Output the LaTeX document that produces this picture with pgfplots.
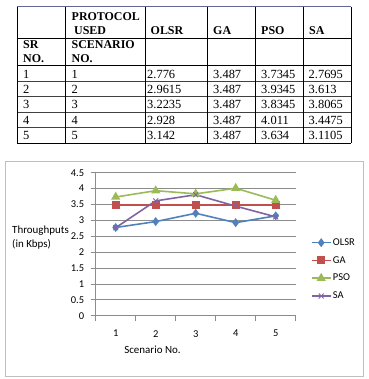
\documentclass[border=0pt]{standalone}
\usepackage{pgfplots}
\pgfplotsset{compat=1.18}
\usepackage{fontspec}
\setmainfont{Liberation Serif}
\newfontfamily\calibri{Carlito}

\definecolor{olsr}{HTML}{4F81BD}
\definecolor{ga}{HTML}{C0504D}
\definecolor{pso}{HTML}{9BBB59}
\definecolor{sa}{HTML}{8064A2}
\definecolor{gridgray}{HTML}{8C8C8C}
\definecolor{framegray}{HTML}{BFBFBF}

\begin{document}
\begin{tikzpicture}[x=1bp,y=1bp]
\path (0,0) rectangle (369,379);

% ---------------- table ----------------
\begin{scope}
  % horizontal rules
  \draw[line width=0.9bp,black!70!blue!60] (17,372.3) -- (351,372.3);
  \draw[line width=0.9bp] (17,341) -- (351,341);
  \draw[line width=0.9bp] (17,313.3) -- (351,313.3);
  \foreach \yy in {298,282.3,266.7,251.3} \draw[line width=0.8bp,black!75] (17,\yy) -- (351,\yy);
  \draw[line width=0.9bp] (17,236) -- (351,236);
  % vertical rules
  \foreach \xx in {17,65,145,207,255,303,351} \draw[line width=0.9bp] (\xx,372.3) -- (\xx,236);
  % header
  \begin{scope}[every node/.style={anchor=base west,inner sep=0pt,font=\fontsize{12}{14}\selectfont\bfseries}]
    \node at (71.5,358.3) {PROTOCOL};
    \node at (74,344.3) {USED};
    \node at (150.5,344.3) {OLSR};
    \node at (213,344.3) {GA};
    \node at (261,344.3) {PSO};
    \node at (309,344.3) {SA};
    \node at (23,330.7) {SR};
    \node at (23,316.3) {NO.};
    \node at (71.5,330.7) {SCENARIO};
    \node at (71.5,316.3) {NO.};
  \end{scope}
  % body
  \begin{scope}[every node/.style={anchor=base west,inner sep=0pt,font=\fontsize{12.5}{14}\selectfont}]
    \foreach \r/\yy/\a/\b/\c/\d in {1/300.7/2.776/3.487/3.7345/2.7695,
                                   2/285.7/2.9615/3.487/3.9345/3.613,
                                   3/270.3/3.2235/3.487/3.8345/3.8065,
                                   4/254.7/2.928/3.487/4.011/3.4475,
                                   5/239.7/3.142/3.487/3.634/3.1105}{
      \node at (23,\yy) {\r};
      \node at (71.5,\yy) {\r};
      \node at (147,\yy) {\a};
      \node at (213,\yy) {\b};
      \node at (261,\yy) {\c};
      \node at (308.5,\yy) {\d};
    }
  \end{scope}
\end{scope}

% ---------------- chart ----------------
\draw[framegray,line width=1bp] (5.7,2.7) rectangle (363,217.3);

\begin{axis}[
  at={(95.7bp,63.3bp)}, anchor=origin,
  scale only axis, width=200bp, height=143bp,
  xmin=0.5, xmax=5.5, ymin=0, ymax=4.5,
  axis lines*=left,
  axis line style={gridgray,line width=0.8bp},
  xtick={1,2,3,4,5},
  major x tick style={draw=none},
  minor xtick={0.5,1.5,2.5,3.5,4.5,5.5},
  minor x tick style={gridgray,line width=0.8bp},
  minor tick length=5bp,
  ytick={0,0.5,...,4.5},
  major y tick style={gridgray,line width=0.8bp},
  major tick length=5bp,
  tick align=outside,
  ymajorgrids,
  grid style={gridgray,line width=0.8bp},
  yticklabel style={font=\calibri\fontsize{10.5}{12}\selectfont,xshift=-3bp},
  xticklabel style={font=\calibri\fontsize{10.5}{12}\selectfont,yshift=-6bp},
  /pgf/number format/assume math mode=true,
  yticklabel={\pgfmathprintnumber[fixed,precision=1]{\tick}},
  clip=false,
  legend style={at={(1.075,0.324)},anchor=west,draw=none,fill=none,
    inner sep=0pt,row sep=6.5bp,
    font=\calibri\fontsize{10.5}{12}\selectfont,
    nodes={inner sep=1.5bp}},
  legend cell align=left,
  legend image code/.code={\draw[mark repeat=2,mark phase=2,#1]
    plot coordinates {(0bp,0bp) (9.5bp,0bp) (19bp,0bp)};},
  every axis plot/.append style={line width=1.6bp},
]
\addplot[olsr,mark=diamond*,mark size=3.2bp,mark options={solid}]
  coordinates {(1,2.776) (2,2.9615) (3,3.2235) (4,2.928) (5,3.142)};
\addlegendentry{OLSR}
\addplot[ga,mark=square*,mark size=3.2bp]
  coordinates {(1,3.487) (2,3.487) (3,3.487) (4,3.487) (5,3.487)};
\addlegendentry{GA}
\addplot[pso,mark=triangle*,mark size=3.8bp]
  coordinates {(1,3.7345) (2,3.9345) (3,3.8345) (4,4.011) (5,3.634)};
\addlegendentry{PSO}
\addplot[sa,mark=x,mark size=3.5bp,mark options={line width=0.9bp}]
  coordinates {(1,2.7695) (2,3.613) (3,3.8065) (4,3.4475) (5,3.1105)};
\addlegendentry{SA}
\end{axis}

% axis titles
\node[anchor=base west,inner sep=0pt,font=\calibri\fontsize{11}{13}\selectfont] at (12,145.5) {Throughputs};
\node[anchor=base west,inner sep=0pt,font=\calibri\fontsize{11}{13}\selectfont] at (12,131.5) {(in Kbps)};
\node[anchor=base,inner sep=0pt,font=\calibri\fontsize{11}{13}\selectfont] at (152.5,25.5) {Scenario No.};
\end{tikzpicture}
\end{document}
